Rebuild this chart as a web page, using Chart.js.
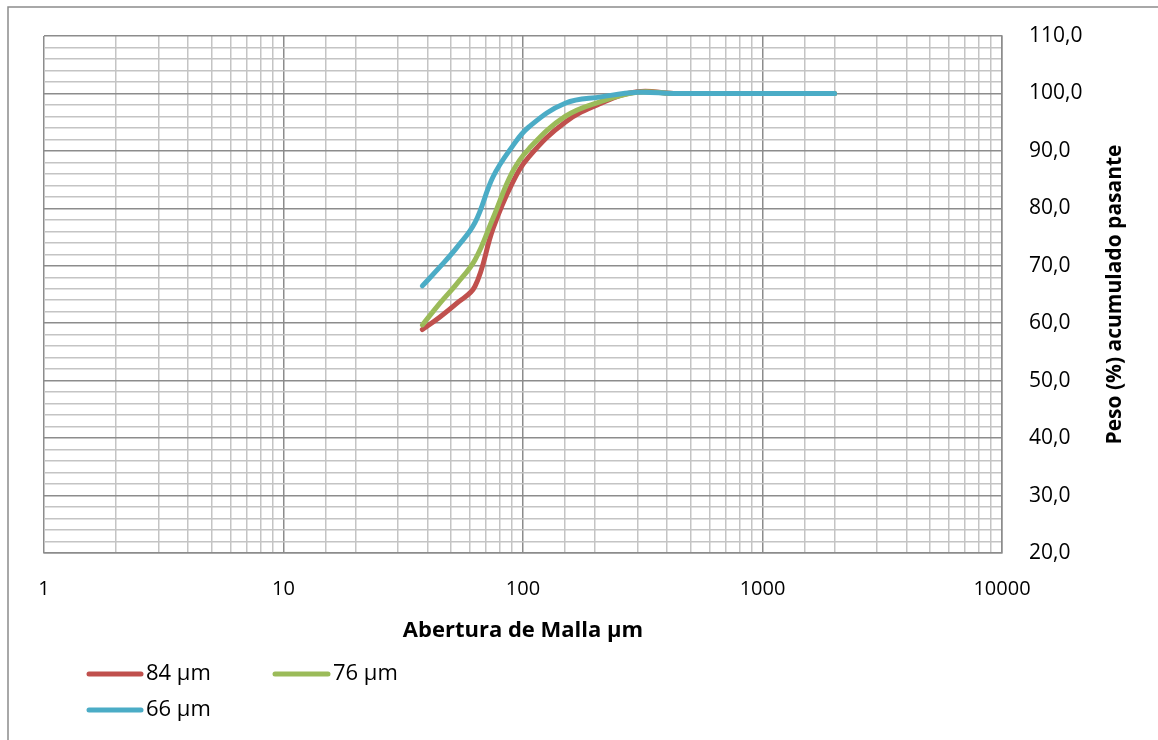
<!DOCTYPE html>
<html><head><meta charset="utf-8">
<script src="https://cdn.jsdelivr.net/npm/chart.js@4.4.1/dist/chart.umd.min.js"></script>
<style>html,body{margin:0;padding:0;background:#fff}#wrap{width:1158px;height:740px;position:relative}</style>
</head><body><div id="wrap"><canvas id="c"></canvas></div>
<script>
const sieveSizes = [38, 45, 53, 63, 75, 90, 106, 150, 212, 300, 425, 600, 850, 1180, 1700, 2000];
const series84 = [58.9, 61.1, 63.5, 66.4, 76.5, 84.3, 89.0, 95.0, 98.3, 100.3, 100.0, 100.0, 100.0, 100.0, 100.0, 100.0];
const series76 = [59.7, 63.5, 66.9, 71.0, 78.3, 86.2, 90.4, 96.0, 98.6, 100.2, 100.0, 100.0, 100.0, 100.0, 100.0, 100.0];
const series66 = [66.5, 69.8, 73.2, 77.5, 85.5, 90.7, 94.2, 98.3, 99.4, 100.2, 100.0, 100.0, 100.0, 100.0, 100.0, 100.0];
const seriesLabels = ['84 µm', '76 µm', '66 µm'];
const seriesColors = ['#C0504D', '#9BBB59', '#4BACC6'];
const xTickLabels = ['1', '10', '100', '1000', '10000'];
const yTickLabels = ['20,0', '30,0', '40,0', '50,0', '60,0', '70,0', '80,0', '90,0', '100,0', '110,0'];
const xTitle = 'Abertura de Malla µm';
const yTitle = 'Peso (%) acumulado pasante';

const FONT = "'Open Sans', 'Noto Sans', sans-serif";
const MAJOR = '#8C8C8C', MINOR = '#C4C4C4';

function toPoints(vals) { return sieveSizes.map((s, i) => ({ x: s, y: vals[i] })); }

const legendPos = [
  { x1: 89, x2: 141, tx: 146, y: 674 },
  { x1: 275, x2: 328, tx: 333, y: 674 },
  { x1: 89, x2: 141, tx: 146, y: 710 }
];

const framePlugin = {
  id: 'frame',
  beforeDraw(chart) {
    const c = chart.ctx;
    c.save();
    c.fillStyle = '#fff';
    c.fillRect(0, 0, chart.width, chart.height);
    c.strokeStyle = '#8C8C8C';
    c.lineWidth = 1.5;
    c.strokeRect(8, 7, chart.width + 10, chart.height + 10);
    c.restore();
  },
  afterDraw(chart) {
    const c = chart.ctx;
    const area = chart.chartArea;
    c.save();
    c.font = "bold 21px " + FONT;
    c.fillStyle = '#000';
    c.textAlign = 'center';
    c.textBaseline = 'middle';
    c.translate(1115, (area.top + area.bottom) / 2);
    c.rotate(-Math.PI / 2);
    c.fillText(yTitle, 0, 0);
    c.restore();

    c.save();
    c.font = "22px " + FONT;
    c.textBaseline = 'middle';
    c.textAlign = 'left';
    chart.data.datasets.forEach((ds, i) => {
      const p = legendPos[i];
      c.strokeStyle = ds.borderColor;
      c.lineWidth = 5;
      c.lineCap = 'round';
      c.beginPath();
      c.moveTo(p.x1, p.y);
      c.lineTo(p.x2, p.y);
      c.stroke();
      c.fillStyle = '#000';
      c.fillText(ds.label, p.tx, p.y);
    });
    c.restore();
  }
};

new Chart(document.getElementById('c'), {
  type: 'line',
  data: {
    datasets: [
      { label: seriesLabels[0], data: toPoints(series84), borderColor: seriesColors[0], order: 3 },
      { label: seriesLabels[1], data: toPoints(series76), borderColor: seriesColors[1], order: 2 },
      { label: seriesLabels[2], data: toPoints(series66), borderColor: seriesColors[2], order: 1 }
    ].map(d => Object.assign(d, {
      borderWidth: 5, pointRadius: 0, tension: 0.4, fill: false,
      borderCapStyle: 'round', borderJoinStyle: 'round', backgroundColor: d.borderColor
    }))
  },
  options: {
    responsive: true,
    maintainAspectRatio: false,
    animation: false,
    devicePixelRatio: 1,
    layout: { padding: { left: 44, right: 26, top: 36, bottom: 92 } },
    plugins: { legend: { display: false }, tooltip: { enabled: false } },
    scales: {
      x: {
        type: 'logarithmic',
        min: 1, max: 10000,
        border: { display: true, color: MAJOR, width: 1.5 },
        grid: {
          drawTicks: false,
          lineWidth: 1.5,
          color: ctx => {
            const v = ctx.tick ? ctx.tick.value : 1;
            const e = Math.log10(v);
            return Math.abs(e - Math.round(e)) < 1e-9 ? MAJOR : MINOR;
          }
        },
        ticks: {
          autoSkip: false, maxRotation: 0, padding: 24,
          color: '#000', font: { family: FONT, size: 20 },
          callback: v => {
            const e = Math.log10(v);
            return Math.abs(e - Math.round(e)) < 1e-9 ? xTickLabels[Math.round(e)] : '';
          }
        },
        title: { display: true, text: xTitle, color: '#000', font: { family: FONT, size: 22, weight: 'bold' }, padding: { top: 10, bottom: 4 } },
        afterFit: s => { s.height = 95; s.paddingLeft = 0; s.paddingRight = 0; }
      },
      y: {
        position: 'right',
        min: 20, max: 110,
        border: { display: true, color: MAJOR, width: 1.5 },
        grid: {
          drawTicks: false,
          lineWidth: 1.5,
          color: ctx => (ctx.tick && ctx.tick.value % 10 === 0) ? MAJOR : MINOR
        },
        ticks: {
          stepSize: 2, autoSkip: false, padding: 27,
          color: '#000', font: { family: FONT, size: 21 },
          callback: v => (v % 10 === 0) ? yTickLabels[(v - 20) / 10] : ''
        },
        title: { display: false, text: yTitle },
        afterFit: s => { s.width = 130; s.paddingTop = 0; s.paddingBottom = 0; }
      }
    }
  },
  plugins: [framePlugin]
});
</script></body></html>
